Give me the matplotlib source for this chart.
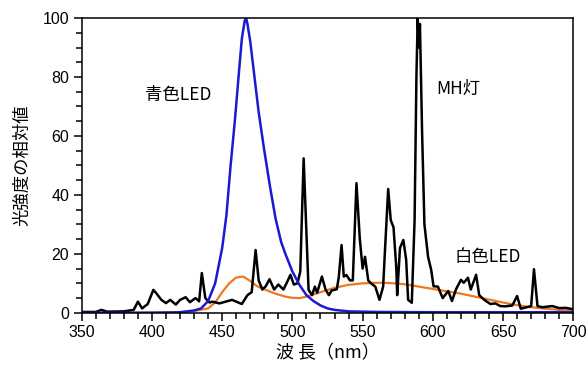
import numpy as np
import matplotlib.pyplot as plt
from matplotlib.ticker import MultipleLocator

plt.rcParams['font.family'] = ['Noto Sans CJK JP', 'DejaVu Sans']

# blue LED spectrum
blue_wl = [350, 400, 420, 430, 435, 440, 445, 450, 453, 456, 459, 462, 464, 466, 467,
           468, 470, 473, 476, 480, 484, 488, 492, 495, 500, 505, 510, 515, 520, 525,
           530, 540, 560, 600, 650, 700]
blue_val = [0, 0, 0.2, 0.8, 1.5, 4, 10, 22, 33, 50, 65, 82, 93, 99, 100,
            98, 92, 80, 68, 55, 43, 32, 24, 20, 14, 9.5, 6, 4, 2.5, 1.5,
            1, 0.5, 0.3, 0.2, 0.2, 0.2]

# white LED spectrum
white_wl = [350, 420, 430, 440, 445, 450, 455, 460, 465, 470, 475, 480, 485, 490, 495,
            500, 505, 510, 520, 530, 540, 550, 560, 570, 580, 590, 600, 610, 620, 630,
            640, 650, 660, 670, 680, 690, 700]
white_val = [0, 0.2, 0.6, 1.5, 3.5, 7, 10, 12, 12.3, 10.8, 9, 8, 7, 6.2, 5.5,
             5.1, 5, 5.5, 7, 8.5, 9.5, 10, 10.2, 10.1, 9.7, 8.9, 8.1, 7.3, 6.5, 5.5,
             4.5, 3.5, 2.6, 1.9, 1.4, 1.0, 0.7]

# metal halide lamp spectrum
mh_wl = [350, 360, 364, 368, 380, 387, 390, 393, 397, 401, 403, 406.7, 410, 413, 417,
         420, 424, 427, 431, 433.6, 435.5, 438, 441, 443, 448, 452.6, 457, 462, 464, 468,
         471, 473.8, 476, 478.6, 481, 483.7, 487, 490, 493.6, 496, 498.6, 501, 503.6, 505.6,
         508, 511.5, 514, 516, 517.6, 521, 523.6, 526, 528, 531.6, 533, 535, 536.6, 538.5,
         541, 543, 545.6, 548, 550, 551.7, 554, 556, 559, 562, 564.6, 566, 568.2, 570,
         572, 574, 574.6, 576.6, 579, 581, 582.4, 585, 587, 588.3, 589.2, 590, 590.8, 592.3,
         594, 596.6, 598.8, 600.5, 603.6, 607, 611, 613.6, 616.6, 620, 622, 625, 627, 630.8,
         633, 636.6, 641, 644.6, 648, 651.5, 656.6, 660, 662.6, 666, 670, 672, 674.5, 678,
         685, 690, 694.5, 699, 700]
mh_val = [0.3, 0.3, 1, 0.4, 0.5, 1, 3.8, 1.5, 3, 7.8, 6.7, 4.4, 3.3, 4.4, 2.8,
          4.4, 5.3, 3.6, 5, 3.9, 13.5, 5, 3.5, 3.8, 3.2, 3.8, 4.4, 3.4, 3, 6,
          7, 21.3, 11, 7.9, 9, 11.4, 7.9, 9.6, 7.9, 10.2, 12.9, 9.6, 10, 14,
          52.4, 7.8, 6, 8.9, 6.8, 12.3, 7.9, 6, 7.6, 8, 12, 23, 12.3, 12.8,
          11, 11, 44, 25, 15, 19, 11, 10, 8.9, 4.4, 8.9, 22, 42, 31.5,
          29, 15, 6, 22, 24.7, 18, 4.4, 3.4, 31.5, 80, 100, 90, 98, 62,
          30, 19, 14.6, 9, 8.9, 5, 7.4, 4, 8.1, 11.2, 10.2, 11.9, 7.9, 12.9,
          6, 4.4, 3, 3.2, 2.3, 2.2, 2.5, 5.7, 1.4, 1.8, 2.3, 14.8, 2.3, 1.9,
          2.3, 1.6, 1.7, 1.3, 1.2]

fig = plt.figure(figsize=(5.88, 3.76), dpi=100)
ax = fig.add_axes([0.139, 0.168, 0.836, 0.784])

ax.plot(white_wl, white_val, color='#f07820', lw=1.6)
ax.plot(mh_wl, mh_val, color='black', lw=1.8)
ax.plot(blue_wl, blue_val, color='#1a1ad0', lw=1.8)

ax.set_xlim(350, 700)
ax.set_ylim(0, 100)
ax.xaxis.set_major_locator(MultipleLocator(50))
ax.xaxis.set_minor_locator(MultipleLocator(10))
ax.yaxis.set_major_locator(MultipleLocator(20))
ax.yaxis.set_minor_locator(MultipleLocator(5))
ax.tick_params(which='both', direction='out', top=False, right=False, width=1.1)
ax.tick_params(which='major', length=6, pad=3)
ax.tick_params(which='minor', length=4)
for lab in ax.get_xticklabels() + ax.get_yticklabels():
    lab.set_family('Liberation Sans')
    lab.set_fontsize(11.5)
for s in ax.spines.values():
    s.set_linewidth(1.1)

ax.set_xlabel('波 長（nm）', fontsize=13, labelpad=3)
ax.set_ylabel('光強度の相対値', fontsize=12.5, labelpad=8)

ax.text(419, 74, '青色LED', fontsize=12.5, ha='center', va='center')
ax.text(618, 76, 'MH灯', fontsize=12.5, ha='center', va='center')
ax.text(639, 19, '白色LED', fontsize=12.5, ha='center', va='center')

fig.savefig('out.png', dpi=100)
